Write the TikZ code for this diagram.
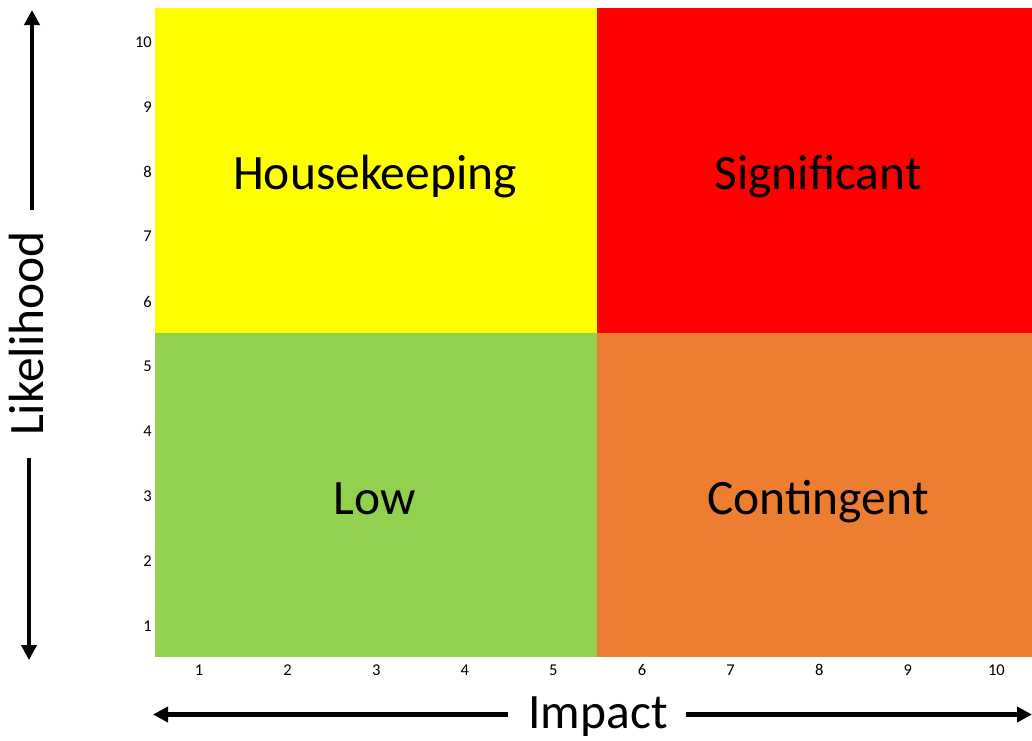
\documentclass[tikz,border=0pt]{standalone}
\usepackage{fontspec}
\setmainfont{Carlito}
\usetikzlibrary{arrows.meta}
\definecolor{qyellow}{HTML}{FFFF00}
\definecolor{qred}{HTML}{FF0000}
\definecolor{qgreen}{HTML}{92D050}
\definecolor{qorange}{HTML}{ED7D31}
\tikzset{
  big/.style={font=\fontsize{49.5}{58}\selectfont, inner sep=0pt},
  tick/.style={font=\fontsize{16.5}{19}\selectfont, inner sep=0pt},
  axarrow/.style={line width=4.5pt, -{Triangle[width=15pt,length=15pt]}},
  quad/.style={draw=none, inner sep=0pt, minimum width=442pt, minimum height=324.5pt, anchor=north west}
}
\begin{document}
\begin{tikzpicture}[x=1pt,y=-1pt]
\useasboundingbox (0,0) rectangle (1032,740);
% quadrants
\node[quad, fill=qyellow, minimum width=442pt] (hk) at (155,8) {};
\node[quad, fill=qred, minimum width=435pt] (sg) at (597,8) {};
\node[quad, fill=qgreen, minimum width=442pt] (lo) at (155,332.5) {};
\node[quad, fill=qorange, minimum width=435pt] (ct) at (597,332.5) {};
% quadrant labels
\node[big, anchor=base] (thk) at (375,189) {Housekeeping};
\node[big, anchor=base] (tsg) at (818,189) {Significant};
\node[big, anchor=base] (tlo) at (375,514) {Low};
\node[big, anchor=base] (tct) at (818,514) {Contingent};
% y ticks
\foreach \i in {1,...,10} {
  \node[tick, anchor=east] (yt\i) at (152, {626 - (\i-1)*64.9}) {\i};
}
% x ticks
\foreach \i in {1,...,10} {
  \node[tick] (xt\i) at ({199 + (\i-1)*88.6}, 670) {\i};
}
% axis titles
\node[big, rotate=90, anchor=base] (lik) at (43,333.5) {Likelihood};
\node[big, anchor=base] (imp) at (598,728) {Impact};
% arrows
\coordinate (upS) at (32,210);
\coordinate (upE) at (32,10);
\coordinate (dnS) at (29,458);
\coordinate (dnE) at (29,660);
\coordinate (lfS) at (508,714.5);
\coordinate (lfE) at (153,714.5);
\coordinate (rtS) at (686,714.5);
\coordinate (rtE) at (1032,714.5);
\draw[axarrow] (upS) -- (upE);
\draw[axarrow] (dnS) -- (dnE);
\draw[axarrow] (lfS) -- (lfE);
\draw[axarrow] (rtS) -- (rtE);
\end{tikzpicture}
\end{document}
